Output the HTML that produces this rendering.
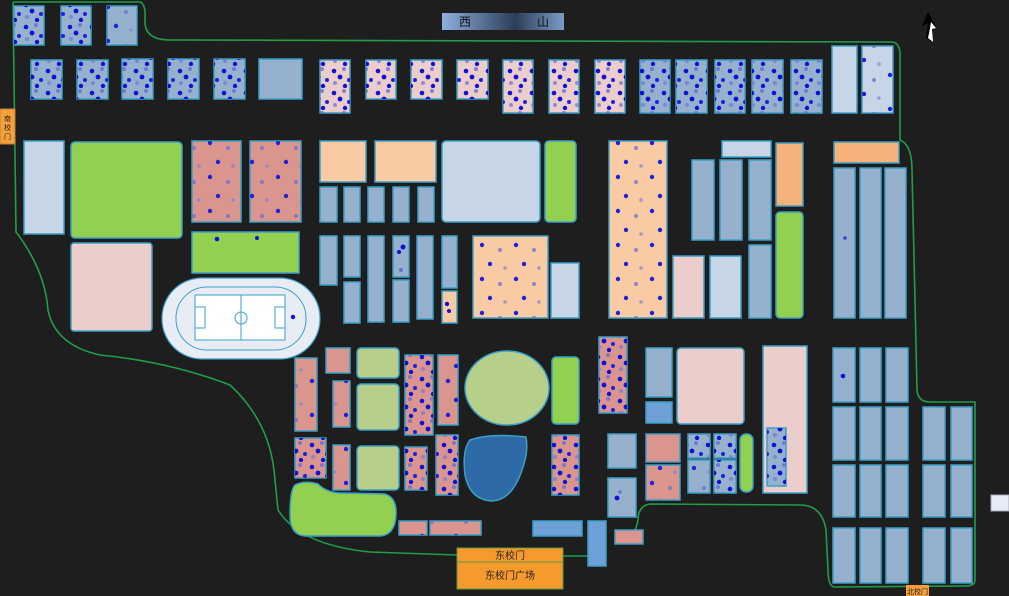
<!DOCTYPE html>
<html><head><meta charset="utf-8"><style>
html,body{margin:0;padding:0;background:#1e1e1e;}
svg{display:block}
.b{fill:#95b1cd;stroke:#3aa0c8;stroke-width:1.5}
.b2{fill:#6fa1d8;stroke:#3aa0c8;stroke-width:1.5}
.p{fill:#ebcdcb;stroke:#3aa0c8;stroke-width:1.5}
.s{fill:#d9958e;stroke:#3aa0c8;stroke-width:1.5}
.pe{fill:#f9cba5;stroke:#3aa0c8;stroke-width:1.5}
.g{fill:#92d050;stroke:#3aa0c8;stroke-width:1.5}
.lg{fill:#b6cf8b;stroke:#3aa0c8;stroke-width:1.5}
.l{fill:#c7d6e7;stroke:#3aa0c8;stroke-width:1.5}
.o{fill:#f7b27b;stroke:#3aa0c8;stroke-width:1.5}
.d{fill:url(#pd)}
.sp{fill:url(#ps)}
text{font-family:"Liberation Sans","Noto Sans CJK SC",sans-serif}
</style></head><body>
<svg width="1009" height="596" viewBox="0 0 1009 596" xmlns="http://www.w3.org/2000/svg">
<defs>
<pattern id="pd" width="22" height="22" patternUnits="userSpaceOnUse">
<circle cx="4" cy="5" r="2.3" fill="#1010d8"/><circle cx="14" cy="3" r="2" fill="#6a6ad8" opacity=".8"/>
<circle cx="10" cy="11" r="2.4" fill="#1010d8"/><circle cx="19" cy="14" r="2" fill="#2020e0"/>
<circle cx="5" cy="17" r="2" fill="#7a7ad8" opacity=".8"/><circle cx="15" cy="20" r="2.2" fill="#1010d8"/>
</pattern>
<pattern id="ps" width="34" height="34" patternUnits="userSpaceOnUse">
<circle cx="6" cy="7" r="2.2" fill="#2020d8"/><circle cx="24" cy="12" r="2" fill="#7070d0" opacity=".8"/>
<circle cx="14" cy="26" r="2.2" fill="#2020d8"/><circle cx="29" cy="30" r="1.8" fill="#8080d0" opacity=".7"/>
</pattern>
<linearGradient id="tg" x1="0" x2="1" y1="0" y2="0">
<stop offset="0" stop-color="#8fb0dd"/><stop offset=".6" stop-color="#2c3e58"/><stop offset="1" stop-color="#7a9cc8"/>
</linearGradient>
</defs>

<!-- roads -->
<path d="M13,2 L140,2 Q146,4 145,20 Q144,40 170,40 L893,42 Q900,44 900,55 L900,140 Q912,145 912,170 L915,300 L917,390 Q918,402 930,402 L975,402 L975,580 Q975,586 965,586 L835,587 Q828,587 828,570 L826,530 Q822,505 800,505 L650,504 Q638,506 638,520 Q636,533 628,537 L615,540 M606,545 L588,555 M563,556 L588,556 M457,555 L370,552 Q300,545 278,510 L274,470 Q268,420 230,385 Q170,362 100,355 Q55,345 48,310 Q45,270 16,232 L13,2" fill="none" stroke="#1f9e4a" stroke-width="1.6"/>

<!-- title -->
<rect x="442" y="13" width="122" height="17" fill="url(#tg)"/>
<text x="459" y="26" font-size="12" fill="#111">西</text><text x="537" y="26" font-size="12" fill="#111">山</text>
<!-- north arrow -->
<path d="M928,12 L922,26 L928,23 L926,38 L932,42 L933,28 L937,28 Z" fill="#000"/>
<path d="M931,22 L936,28 L932,29 L933,42 L928,38 L930,28 Z" fill="#fff"/>

<!-- left gate -->
<rect x="0" y="109" width="15" height="35" fill="#f4a03c" stroke="#c08030"/>
<text x="7.5" y="121" font-size="7" text-anchor="middle" fill="#222">南</text>
<text x="7.5" y="130" font-size="7" text-anchor="middle" fill="#222">校</text>
<text x="7.5" y="139" font-size="7" text-anchor="middle" fill="#222">门</text>

<!-- top row 1 -->
<g><rect class="b" x="14" y="6" width="30" height="39"/><rect class="d" x="14" y="6" width="30" height="39"/></g>
<g><rect class="b" x="61" y="6" width="30" height="39"/><rect class="d" x="61" y="6" width="30" height="39"/></g>
<g><rect class="b" x="107" y="6" width="30" height="39"/><rect class="sp" x="107" y="6" width="30" height="39"/></g>

<!-- row 2 -->
<g><rect class="b" x="31" y="60" width="31" height="39"/><rect class="d" x="31" y="60" width="31" height="39"/></g>
<g><rect class="b" x="77" y="60" width="31" height="39"/><rect class="d" x="77" y="60" width="31" height="39"/></g>
<g><rect class="b" x="122" y="59" width="31" height="40"/><rect class="d" x="122" y="59" width="31" height="40"/></g>
<g><rect class="b" x="168" y="59" width="31" height="40"/><rect class="d" x="168" y="59" width="31" height="40"/></g>
<g><rect class="b" x="214" y="59" width="31" height="40"/><rect class="d" x="214" y="59" width="31" height="40"/></g>
<rect class="b" x="259" y="59" width="43" height="40"/>
<g><rect class="p" x="320" y="60" width="30" height="53"/><rect class="d" x="320" y="60" width="30" height="53"/></g>
<g><rect class="p" x="366" y="60" width="30" height="39"/><rect class="d" x="366" y="60" width="30" height="39"/></g>
<g><rect class="p" x="411" y="60" width="31" height="39"/><rect class="d" x="411" y="60" width="31" height="39"/></g>
<g><rect class="p" x="457" y="60" width="31" height="39"/><rect class="d" x="457" y="60" width="31" height="39"/></g>
<g><rect class="p" x="503" y="60" width="30" height="53"/><rect class="d" x="503" y="60" width="30" height="53"/></g>
<g><rect class="p" x="549" y="60" width="30" height="53"/><rect class="d" x="549" y="60" width="30" height="53"/></g>
<g><rect class="p" x="595" y="60" width="30" height="53"/><rect class="d" x="595" y="60" width="30" height="53"/></g>
<g><rect class="b" x="640" y="60" width="30" height="53"/><rect class="d" x="640" y="60" width="30" height="53"/></g>
<g><rect class="b" x="676" y="60" width="31" height="53"/><rect class="d" x="676" y="60" width="31" height="53"/></g>
<g><rect class="b" x="715" y="60" width="30" height="53"/><rect class="d" x="715" y="60" width="30" height="53"/></g>
<g><rect class="b" x="752" y="60" width="31" height="53"/><rect class="d" x="752" y="60" width="31" height="53"/></g>
<g><rect class="b" x="791" y="60" width="31" height="53"/><rect class="d" x="791" y="60" width="31" height="53"/></g>
<rect class="l" x="832" y="46" width="25" height="67"/>
<g><rect class="l" x="862" y="46" width="31" height="67"/><rect class="sp" x="862" y="46" width="31" height="67"/></g>

<!-- row 3 -->
<rect class="l" x="24" y="141" width="40" height="93"/>
<rect class="g" x="71" y="142" width="111" height="96" rx="4"/>
<g><rect class="s" x="192" y="141" width="49" height="81"/><rect class="sp" x="192" y="141" width="49" height="81"/></g>
<g><rect class="s" x="250" y="141" width="51" height="81"/><rect class="sp" x="250" y="141" width="51" height="81"/></g>
<rect class="pe" x="320" y="141" width="46" height="41"/>
<rect class="pe" x="375" y="141" width="61" height="41"/>
<rect class="l" x="442" y="141" width="98" height="81" rx="4"/>
<rect class="g" x="545" y="141" width="31" height="81" rx="4"/>
<g><rect class="pe" x="609" y="141" width="58" height="177"/><rect class="sp" x="609" y="141" width="58" height="177"/></g>
<rect class="l" x="722" y="141" width="49" height="16"/>
<rect class="o" x="776" y="143" width="27" height="63"/>
<rect class="o" x="834" y="142" width="65" height="21"/>
<rect class="b" x="320" y="187" width="17" height="35"/>
<rect class="b" x="344" y="187" width="16" height="35"/>
<rect class="b" x="368" y="187" width="16" height="35"/>
<rect class="b" x="393" y="187" width="16" height="35"/>
<rect class="b" x="418" y="187" width="16" height="35"/>

<rect class="p" x="71" y="243" width="81" height="88" rx="3"/>
<g><rect class="g" x="192" y="232" width="107" height="41"/><circle cx="217" cy="239" r="2.3" fill="#1010d8"/><circle cx="257" cy="238" r="2" fill="#1010d8"/></g>
<rect class="b" x="320" y="236" width="17" height="49"/>
<rect class="b" x="344" y="236" width="16" height="41"/>
<rect class="b" x="344" y="282" width="16" height="41"/>
<rect class="b" x="368" y="236" width="16" height="86"/>
<g><rect class="b" x="393" y="236" width="16" height="41"/><circle cx="403" cy="247" r="2.5" fill="#1010d8"/><circle cx="399" cy="252" r="2" fill="#1010d8"/><circle cx="401" cy="270" r="2" fill="#6a6ad8"/></g>
<rect class="b" x="393" y="280" width="16" height="42"/>
<rect class="b" x="417" y="236" width="16" height="83"/>
<rect class="b" x="442" y="236" width="15" height="52"/>
<g><rect class="pe" x="442" y="291" width="15" height="32"/><circle cx="447" cy="304" r="2.2" fill="#1010d8"/><circle cx="449" cy="311" r="2" fill="#1010d8"/></g>
<g><rect class="pe" x="473" y="236" width="75" height="82"/><rect class="sp" x="473" y="236" width="75" height="82"/></g>
<rect class="l" x="551" y="263" width="28" height="55"/>

<rect class="b" x="692" y="160" width="22" height="80"/>
<rect class="b" x="720" y="160" width="22" height="80"/>
<rect class="b" x="749" y="160" width="22" height="80"/>
<rect class="b" x="749" y="245" width="22" height="73"/>
<rect class="g" x="776" y="212" width="27" height="106" rx="4"/>
<rect class="p" x="673" y="256" width="31" height="62"/>
<rect class="l" x="710" y="256" width="31" height="62"/>
<rect class="b" x="834" y="168" width="21" height="150"/>
<rect class="b" x="860" y="168" width="21" height="150"/>
<rect class="b" x="885" y="168" width="21" height="150"/>
<circle cx="845" cy="238" r="1.8" fill="#4040d0"/>

<!-- stadium -->
<rect x="162" y="278" width="158" height="81" rx="40" fill="#e8ecf4" stroke="#3aa0c8" stroke-width="1.2"/>
<rect x="176" y="287" width="130" height="63" rx="31" fill="none" stroke="#3aa0c8" stroke-width="1"/>
<rect x="195" y="295" width="90" height="45" fill="#fff" stroke="#3aa0c8" stroke-width="1"/>
<line x1="241" y1="295" x2="241" y2="340" stroke="#3aa0c8"/>
<circle cx="241" cy="318" r="6" fill="none" stroke="#3aa0c8"/>
<rect x="195" y="307" width="10" height="21" fill="none" stroke="#3aa0c8"/>
<rect x="275" y="307" width="10" height="21" fill="none" stroke="#3aa0c8"/>
<circle cx="293" cy="317" r="2.2" fill="#1010d8"/>

<!-- lower middle -->
<g><rect class="s" x="295" y="358" width="22" height="73"/><rect class="sp" x="295" y="358" width="22" height="73"/></g>
<rect class="s" x="326" y="348" width="24" height="25"/>
<rect class="lg" x="357" y="348" width="42" height="30" rx="4"/>
<rect class="lg" x="357" y="384" width="42" height="46" rx="4"/>
<rect class="lg" x="357" y="446" width="42" height="44" rx="4"/>
<g><rect class="s" x="333" y="381" width="17" height="46"/><rect class="sp" x="333" y="381" width="17" height="46"/></g>
<g><rect class="s" x="405" y="355" width="28" height="80"/><rect class="d" x="405" y="355" width="28" height="80"/></g>
<g><rect class="s" x="438" y="355" width="20" height="70"/><rect class="sp" x="438" y="355" width="20" height="70"/></g>
<ellipse class="lg" cx="507" cy="388" rx="42" ry="37"/>
<rect class="g" x="552" y="357" width="27" height="67" rx="4"/>
<g><rect class="s" x="599" y="337" width="28" height="76"/><rect class="d" x="599" y="337" width="28" height="76"/></g>
<rect class="b" x="646" y="348" width="26" height="49"/>
<rect class="b2" x="646" y="402" width="26" height="21"/>
<rect class="p" x="677" y="348" width="67" height="76" rx="4"/>
<rect class="p" x="763" y="346" width="44" height="147"/>
<g><rect class="b" x="767" y="428" width="19" height="58"/><rect class="d" x="767" y="428" width="19" height="58"/></g>

<g><rect class="s" x="295" y="438" width="31" height="40"/><rect class="d" x="295" y="438" width="31" height="40"/></g>
<g><rect class="s" x="333" y="445" width="17" height="45"/><rect class="sp" x="333" y="445" width="17" height="45"/></g>
<g><rect class="s" x="405" y="447" width="22" height="43"/><rect class="d" x="405" y="447" width="22" height="43"/></g>
<g><rect class="s" x="436" y="435" width="22" height="60"/><rect class="d" x="436" y="435" width="22" height="60"/></g>
<path d="M470,440 Q490,433 526,437 Q528,448 525,460 Q515,500 492,501 Q470,500 465,475 Q462,450 470,440 Z" fill="#2e6aa8" stroke="#3aa0c8" stroke-width="1.5"/>
<g><rect class="s" x="552" y="435" width="27" height="60"/><rect class="d" x="552" y="435" width="27" height="60"/></g>
<rect class="b" x="608" y="434" width="28" height="34"/>
<g><rect class="b" x="608" y="478" width="28" height="39"/><circle cx="617" cy="498" r="2.4" fill="#1010d8"/><circle cx="620" cy="492" r="1.8" fill="#7070d0"/></g>
<rect class="s" x="646" y="434" width="34" height="28"/>
<g><rect class="s" x="646" y="465" width="34" height="35"/><rect class="sp" x="646" y="465" width="34" height="35"/></g>
<g><rect class="b" x="688" y="434" width="22" height="24"/><rect class="d" x="688" y="434" width="22" height="24"/></g>
<g><rect class="b" x="714" y="434" width="22" height="24"/><rect class="d" x="714" y="434" width="22" height="24"/></g>
<g><rect class="b" x="688" y="460" width="22" height="33"/><rect class="sp" x="688" y="460" width="22" height="33"/></g>
<g><rect class="b" x="714" y="460" width="22" height="33"/><rect class="d" x="714" y="460" width="22" height="33"/></g>
<rect class="g" x="740" y="434" width="13" height="58" rx="6"/>
<path d="M295,485 Q305,480 318,484 Q328,494 345,493 L385,494 Q397,498 396,515 Q395,535 380,536 L305,536 Q290,535 290,515 Q290,490 295,485 Z" fill="#92d050" stroke="#3aa0c8" stroke-width="1.5"/>
<g><rect class="s" x="399" y="521" width="28" height="14"/><rect class="sp" x="399" y="521" width="28" height="14"/></g>
<g><rect class="s" x="430" y="521" width="51" height="14"/><rect class="sp" x="430" y="521" width="51" height="14"/></g>
<rect class="b2" x="533" y="521" width="49" height="15"/>
<rect class="b2" x="588" y="521" width="18" height="45"/>
<rect class="s" x="615" y="530" width="28" height="14"/>

<!-- gate -->
<rect x="457" y="548" width="106" height="14" fill="#f79a2e" stroke="#5a9a3a"/>
<rect x="457" y="562" width="106" height="27" fill="#f79a2e" stroke="#5a9a3a"/>
<text x="510" y="559" font-size="10" text-anchor="middle" fill="#222">东校门</text>
<text x="510" y="579" font-size="10" text-anchor="middle" fill="#222">东校门广场</text>

<!-- right dorm blocks -->
<g class="rb">
<rect class="b" x="833" y="348" width="22" height="54"/><rect class="b" x="860" y="348" width="21" height="54"/><rect class="b" x="886" y="348" width="22" height="54"/>
<rect class="b" x="833" y="407" width="22" height="53"/><rect class="b" x="860" y="407" width="21" height="53"/><rect class="b" x="886" y="407" width="22" height="53"/>
<rect class="b" x="833" y="465" width="22" height="52"/><rect class="b" x="860" y="465" width="21" height="52"/><rect class="b" x="886" y="465" width="22" height="52"/>
<rect class="b" x="833" y="528" width="22" height="55"/><rect class="b" x="860" y="528" width="21" height="55"/><rect class="b" x="886" y="528" width="22" height="55"/>
<rect class="b" x="923" y="407" width="22" height="53"/><rect class="b" x="951" y="407" width="21" height="53"/>
<rect class="b" x="923" y="465" width="22" height="52"/><rect class="b" x="951" y="465" width="21" height="52"/>
<rect class="b" x="923" y="528" width="22" height="55"/><rect class="b" x="951" y="528" width="21" height="55"/>
</g>
<circle cx="843" cy="376" r="2.3" fill="#1010d8"/>
<rect x="991" y="495" width="18" height="16" fill="#e6edf7" stroke="#aab"/>
<rect x="906" y="585" width="23" height="11" fill="#f4a03c"/>
<text x="917.5" y="594" font-size="7" text-anchor="middle" fill="#222">北校门</text>
</svg>
</body></html>
